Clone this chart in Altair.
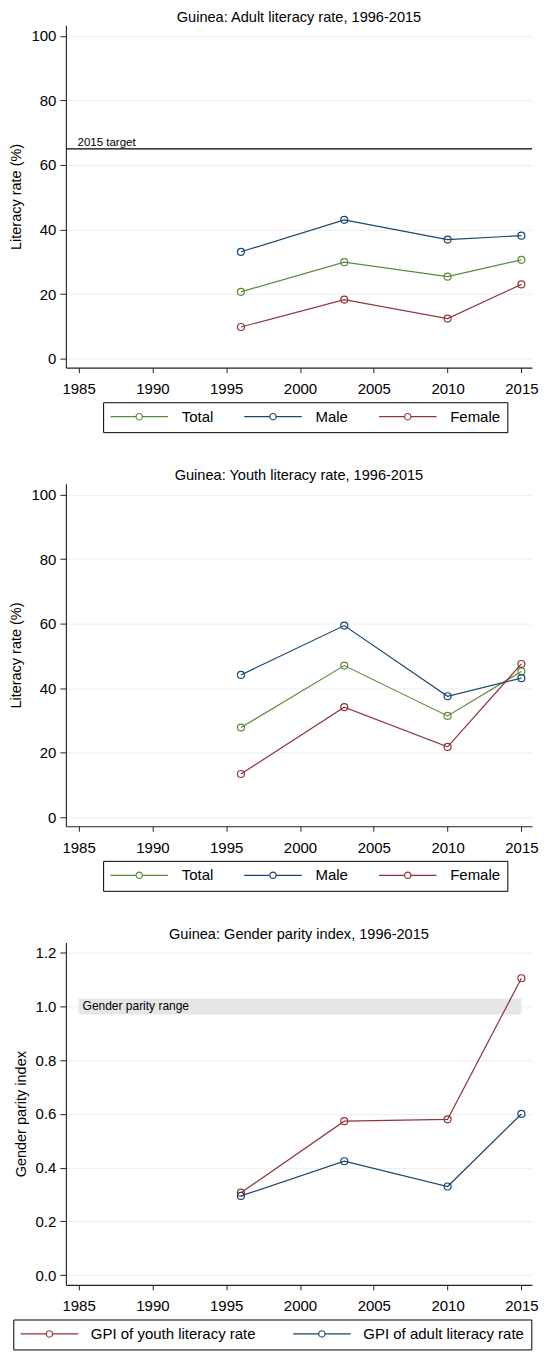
import altair as alt
import pandas as pd

# ---------------- data ----------------
years = [1996, 2003, 2010, 2015]
adult_total = [20.7, 29.9, 25.4, 30.6]
adult_male = [33.1, 43.0, 36.9, 38.1]
adult_female = [9.8, 18.3, 12.4, 23.0]
youth_total = [27.8, 47.0, 31.4, 45.2]
youth_male = [44.1, 59.4, 37.5, 43.1]
youth_female = [13.4, 34.1, 21.8, 47.5]
gpi_youth = [0.307, 0.573, 0.580, 1.105]
gpi_adult = [0.295, 0.424, 0.330, 0.600]

rate_series = ["Total", "Male", "Female"]
gpi_series = ["GPI of youth literacy rate", "GPI of adult literacy rate"]
x_ticks = [1985, 1990, 1995, 2000, 2005, 2010, 2015]
rate_ticks = [0, 20, 40, 60, 80, 100]
gpi_ticks = [0.0, 0.2, 0.4, 0.6, 0.8, 1.0, 1.2]
target_value = [65]
target_label = ["2015 target"]
band_start = [1985]
band_end = [2015]
parity_low = [0.97]
parity_high = [1.03]
parity_mid = [1.0]
parity_label = ["Gender parity range"]

titles = [
    "Guinea: Adult literacy rate, 1996-2015",
    "Guinea: Youth literacy rate, 1996-2015",
    "Guinea: Gender parity index, 1996-2015",
]

# ---------------- style ----------------
FONT = "Liberation Sans"
GREEN = "#5b8a3c"
BLUE = "#1a476f"
RED = "#90353b"
X_DOMAIN = [1984.14, 2015.72]
W, H = 467, 343
LEG_SYMBOL = ("M-1,0L-0.11,0M0.11,0A0.11,0.11 0 1 1 -0.11,0"
              "A0.11,0.11 0 1 1 0.11,0M0.11,0L1,0")


def long_frame(series_names, value_lists):
    rows = []
    for name, vals in zip(series_names, value_lists):
        for yr, v in zip(years, vals):
            rows.append({"year": yr, "series": name, "value": v})
    return pd.DataFrame(rows)


def panel(df, series, colors, title, ytitle, yticks, ydomain, yfmt,
          leg_x, col_pad, lab_off, extras):
    x = alt.X("year:Q",
              scale=alt.Scale(domain=X_DOMAIN, nice=False, zero=False),
              axis=alt.Axis(values=x_ticks, format="d", title=None, grid=False,
                            tickSize=5, labelPadding=9, labelFlush=False,
                            labelOverlap=False))
    y = alt.Y("value:Q",
              scale=alt.Scale(domain=ydomain, nice=False, zero=False),
              axis=alt.Axis(values=yticks, format=yfmt, title=ytitle, grid=True,
                            tickSize=6, labelPadding=4, labelFlush=False,
                            labelOverlap=False, titlePadding=7))
    color = alt.Color("series:N",
                      scale=alt.Scale(domain=series, range=colors),
                      sort=series,
                      legend=alt.Legend(
                          orient="none", legendX=leg_x, legendY=377.7,
                          direction="horizontal", columns=len(series),
                          title=None, symbolType=LEG_SYMBOL, symbolSize=3329,
                          symbolStrokeWidth=1.2, symbolFillColor="transparent",
                          labelFontSize=15, labelFont=FONT, labelColor="black",
                          labelOffset=lab_off, columnPadding=col_pad,
                          padding=6.7, strokeColor="black", clipHeight=15,
                          labelLimit=0))
    base = alt.Chart(df)
    lines = base.mark_line(strokeWidth=1.2).encode(x=x, y=y, color=color,
                                                   detail="series:N")
    pts = base.mark_point(shape="circle", filled=False, size=49,
                          strokeWidth=1.2, opacity=1).encode(
        x=x, y=y, color=alt.Color("series:N",
                                  scale=alt.Scale(domain=series, range=colors),
                                  legend=None))
    layers = extras(x, y) + [lines, pts]
    return alt.layer(*layers).properties(
        width=W, height=H,
        title=alt.TitleParams(title, fontSize=14.6, font=FONT,
                              fontWeight="normal", color="black", offset=1))


def target_extras(x, y):
    tdf = pd.DataFrame({"value": target_value, "label": target_label,
                        "year": band_start})
    rule = alt.Chart(tdf).mark_rule(color="black", strokeWidth=1.1).encode(
        y=alt.Y("value:Q"))
    txt = alt.Chart(tdf).mark_text(align="left", baseline="bottom", dx=-1,
                                   dy=-1, fontSize=11.5, font=FONT,
                                   color="black").encode(
        x=alt.X("year:Q"), y=alt.Y("value:Q"), text="label:N")
    return [rule, txt]


def parity_extras(x, y):
    bdf = pd.DataFrame({"year": band_start, "year2": band_end,
                        "value": parity_low, "value2": parity_high,
                        "mid": parity_mid, "label": parity_label})
    rect = alt.Chart(bdf).mark_rect(color="#e6e6e6").encode(
        x=alt.X("year:Q"), x2="year2:Q", y=alt.Y("value:Q"), y2="value2:Q")
    txt = alt.Chart(bdf).mark_text(align="left", baseline="middle", dx=4,
                                   fontSize=12, font=FONT,
                                   color="black").encode(
        x=alt.X("year:Q"), y=alt.Y("mid:Q"), text="label:N")
    return [rect, txt]


adult_df = long_frame(rate_series, [adult_total, adult_male, adult_female])
youth_df = long_frame(rate_series, [youth_total, youth_male, youth_female])
gpi_df = long_frame(gpi_series, [gpi_youth, gpi_adult])

c1 = panel(adult_df, rate_series, [GREEN, BLUE, RED], titles[0],
           "Literacy rate (%)", rate_ticks, [-2.78, 103.31], "d",
           37.3, 30, 13, target_extras)
c2 = panel(youth_df, rate_series, [GREEN, BLUE, RED], titles[1],
           "Literacy rate (%)", rate_ticks, [-2.78, 103.31], "d",
           37.3, 30, 13, lambda x, y: [])
c3 = panel(gpi_df, gpi_series, [RED, BLUE], titles[2],
           "Gender parity index", gpi_ticks, [-0.036, 1.238], ".1f",
           -52.7, 36, 12, parity_extras)

chart = alt.vconcat(c1, c2, c3, spacing=34.5).resolve_scale(
    color="independent").properties(
    padding={"left": 0, "top": 0, "right": 0, "bottom": 0}
).configure_view(stroke=None).configure_axis(
    labelFont=FONT, labelFontSize=15, labelColor="black",
    titleFont=FONT, titleFontSize=14.5, titleFontWeight="normal",
    titleColor="black", domainColor="#222222", tickColor="#222222",
    gridColor="#eeeeee", gridWidth=1, domainWidth=1.1
)

chart.save("out.html", embed_options={"renderer": "svg", "actions": False})
